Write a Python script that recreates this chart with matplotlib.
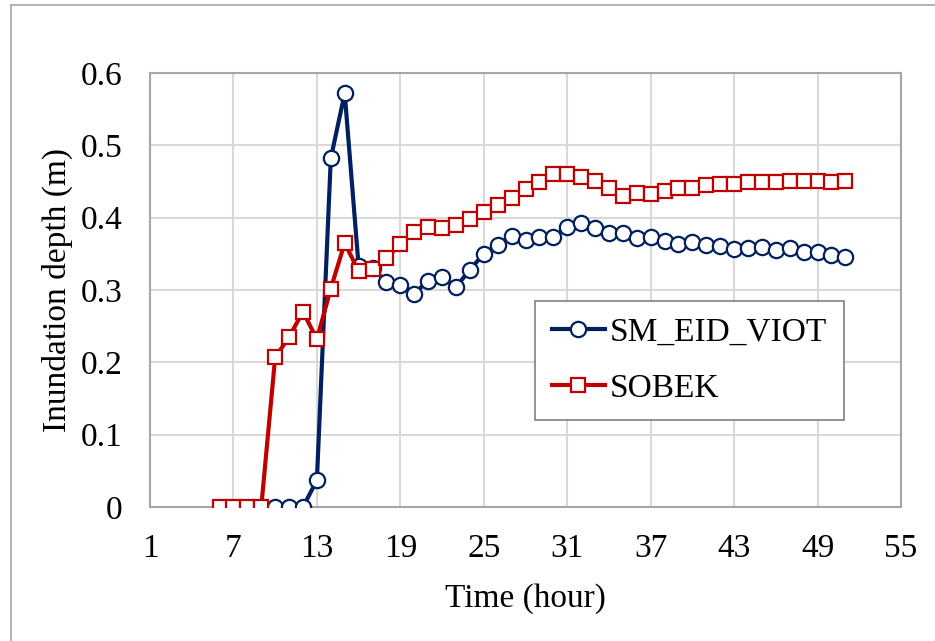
import numpy as np
import matplotlib.pyplot as plt
from matplotlib.lines import Line2D

plt.rcParams['font.family'] = ['Liberation Serif', 'DejaVu Serif']

# SM_EID_VIOT series
viot_hour = list(range(10, 52))
viot_depth = [0, 0, 0, 0.037, 0.482, 0.572, 0.333, 0.33, 0.311, 0.307,
              0.295, 0.313, 0.318, 0.304, 0.328, 0.35, 0.362, 0.375, 0.369, 0.373,
              0.373, 0.387, 0.392, 0.386, 0.379, 0.379, 0.372, 0.373, 0.368, 0.364,
              0.366, 0.362, 0.361, 0.356, 0.358, 0.36, 0.355, 0.358, 0.353, 0.353,
              0.348, 0.346]

# SOBEK series
sobek_hour = list(range(6, 52))
sobek_depth = [0, 0, 0, 0, 0.207, 0.235, 0.27, 0.232, 0.302, 0.365,
               0.326, 0.329, 0.344, 0.364, 0.38, 0.387, 0.386, 0.39, 0.398, 0.408,
               0.418, 0.427, 0.44, 0.45, 0.46, 0.46, 0.456, 0.451, 0.441, 0.43,
               0.434, 0.433, 0.437, 0.441, 0.441, 0.445, 0.447, 0.447, 0.45, 0.45,
               0.45, 0.451, 0.451, 0.451, 0.45, 0.451]

x_ticks = list(range(1, 56, 6))
y_ticks = [0, 0.1, 0.2, 0.3, 0.4, 0.5, 0.6]

fig = plt.figure(figsize=(9.35, 6.41), dpi=100)
ax = fig.add_axes([150/935, 1 - 507/641, 751/935, 434/641])

ax.plot(viot_hour, viot_depth, color='#002060', lw=3, marker='o', ms=11,
        mfc='white', mec='#002060', mew=1.6, label='SM_EID_VIOT', zorder=3)
ax.plot(sobek_hour, sobek_depth, color='#C00000', lw=3, marker='s', ms=10.5,
        mfc='white', mec='#C00000', mew=1.6, label='SOBEK', zorder=4)

ax.set_xlim(1, 55)
ax.set_ylim(0, 0.6)
ax.set_xticks(x_ticks)
ax.set_yticks(y_ticks)
ax.set_yticklabels(['0', '0.1', '0.2', '0.3', '0.4', '0.5', '0.6'])
ax.tick_params(axis='y', length=0, labelsize=24, pad=20)
ax.tick_params(axis='x', length=0, labelsize=24, pad=19)
ax.grid(True, color='#D9D9D9', lw=1.5)
ax.set_axisbelow(True)
for s in ax.spines.values():
    s.set_color('#A6A6A6')
    s.set_linewidth(1.5)

ax.set_xlabel('Time (hour)', fontsize=24, labelpad=14)
ax.set_ylabel('Inundation depth (m)', fontsize=24, labelpad=5)

leg = ax.legend(loc='upper left', bbox_to_anchor=((535-150)/751, (507-301)/434),
                fontsize=24, frameon=True, fancybox=False, edgecolor='#808080',
                framealpha=1, borderpad=0.5, labelspacing=0.75, handlelength=1.6,
                handletextpad=0.15, borderaxespad=0)
leg.get_frame().set_linewidth(1.2)

# outer chart border (top and left visible)
fig.add_artist(Line2D([11/935, 1], [1 - 5/641, 1 - 5/641], color='#A6A6A6', lw=1.2))
fig.add_artist(Line2D([11/935, 11/935], [0, 1 - 5/641], color='#A6A6A6', lw=1.2))

plt.savefig('out.png', dpi=100)
